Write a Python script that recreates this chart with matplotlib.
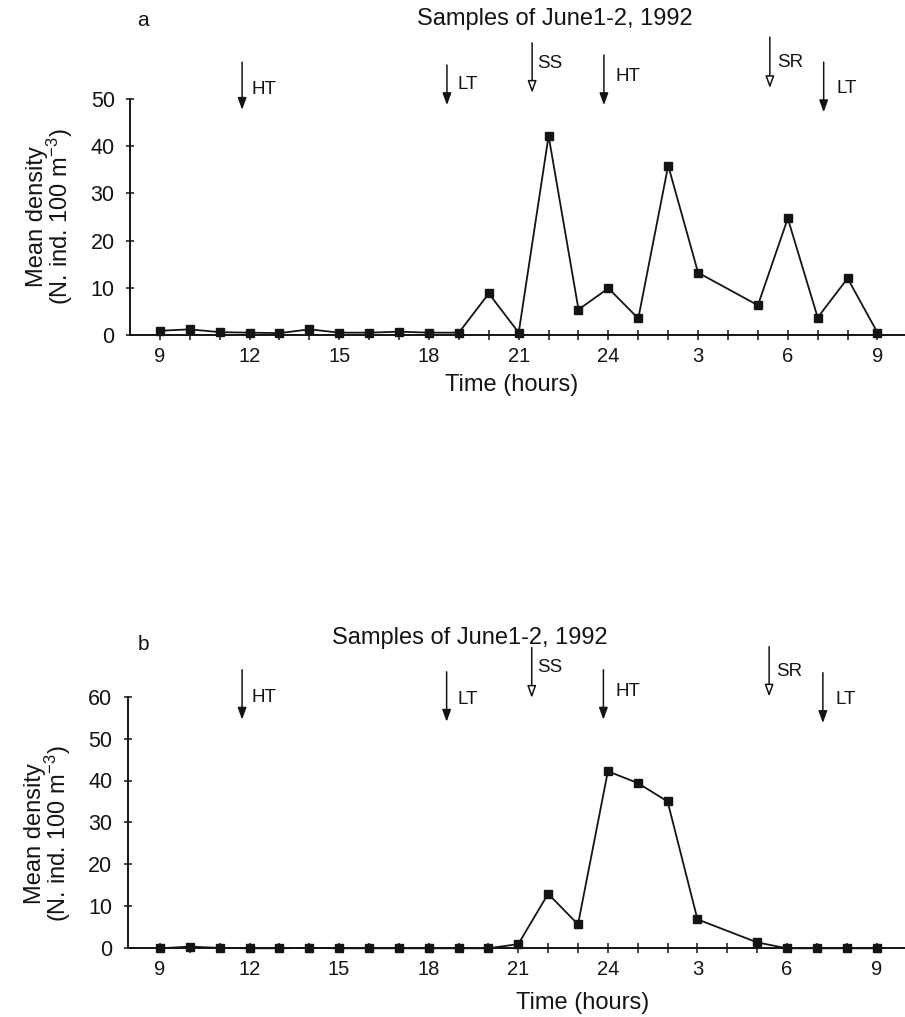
"""
Mean density, samples of June 1-2, 1992 (panels a and b)
"""

import matplotlib
matplotlib.use("Agg")
import matplotlib.pyplot as plt

plt.rcParams['font.family'] = ['Liberation Sans', 'DejaVu Sans']
plt.rcParams['mathtext.default'] = 'regular'

# sampling times (hours, 24 = midnight, 33 = 9 next morning)
hours = [9, 10, 11, 12, 13, 14, 15, 16, 17, 18, 19, 20, 21, 22, 23, 24,
         25, 26, 27, 29, 30, 31, 32, 33]
density_a = [0.9, 1.2, 0.6, 0.5, 0.4, 1.2, 0.5, 0.5, 0.7, 0.5, 0.5, 8.8,
             0.5, 42.2, 5.4, 9.9, 3.5, 35.9, 13.2, 6.3, 24.7, 3.7, 12.0, 0.5]
density_b = [0.0, 0.4, 0.1, 0.0, 0.0, 0.1, 0.0, 0.0, 0.0, 0.0, 0.0, 0.0,
             1.0, 13.0, 5.7, 42.2, 39.4, 35.0, 6.9, 1.4, 0.0, 0.0, 0.0, 0.0]

tick_hours = [9, 12, 15, 18, 21, 24, 27, 30, 33]
tick_labels = ['9', '12', '15', '18', '21', '24', '3', '6', '9']

# tides (HT/LT) and sunset/sunrise (SS/SR)
event_names = ['HT', 'LT', 'SS', 'HT', 'SR', 'LT']
event_times = [11.75, 18.6, 21.45, 23.85, 29.4, 31.2]
event_hollow = [False, False, True, False, True, False]

title = 'Samples of June1-2, 1992'
ink = '#141414'

W, H = 905, 1017
fig = plt.figure(figsize=(W / 100, H / 100), dpi=100)


def px(x, y):
    return x / W, 1 - y / H


def panel(rect, xlim, ylim, ystep, dens, arrows, ylab_y):
    ax = fig.add_axes(rect)
    ax.plot(hours, dens, color=ink, lw=1.3, marker='s', ms=5.5,
            mfc=ink, mec=ink, clip_on=False, zorder=3)
    ax.set_xlim(*xlim)
    ax.set_ylim(0, ylim)
    ax.set_xticks(tick_hours)
    ax.set_xticklabels(tick_labels)
    ax.set_xticks(range(9, 34), minor=True)
    ax.set_yticks(range(0, ylim + 1, ystep))
    for s in ['top', 'right']:
        ax.spines[s].set_visible(False)
    for s in ['left', 'bottom']:
        ax.spines[s].set_linewidth(1.4)
        ax.spines[s].set_color(ink)
    ax.tick_params(axis='x', which='both', direction='inout', length=7,
                   width=1.1, colors=ink, labelsize=14.5, pad=5)
    ax.tick_params(axis='y', direction='inout', length=6, width=1.1,
                   colors=ink, labelsize=15.5, pad=8)
    ax.set_ylabel('Mean density\n(N. ind. 100 m$^{-3}$)', fontsize=17,
                  color=ink, linespacing=0.85)
    ax.yaxis.set_label_coords(-0.071, ylab_y)

    tops, bottoms, labs = arrows
    pxh = 29.9
    offs = [9, 11, 5, 12, 7, 13]
    for i, name in enumerate(event_names):
        t = event_times[i]
        fc = 'white' if event_hollow[i] else ink
        ax.annotate('', xy=(t, bottoms[i]), xytext=(t, tops[i]),
                    annotation_clip=False,
                    arrowprops=dict(arrowstyle='-|>,head_length=0.6,head_width=0.22',
                                    fc=fc, ec=ink, lw=1.1, shrinkA=0, shrinkB=0,
                                    mutation_scale=12))
        ax.text(t + offs[i] / pxh, labs[i], name, fontsize=13.5, color=ink,
                ha='left', va='center', clip_on=False)
    return ax


# panel a
ax_a = panel([130 / W, 1 - 335 / H, 775 / W, 236 / H], (8.0, 33.92), 50, 10,
             density_a,
             ([57.8, 57.2, 61.9, 59.3, 63.1, 57.8],
              [47.7, 48.7, 51.3, 48.7, 52.3, 47.2],
              [52.1, 53.0, 57.6, 54.7, 57.8, 52.3]), 0.5)
fig.text(*px(143, 20), 'a', fontsize=15, color=ink, ha='center', va='center')
fig.text(*px(555, 19), title, fontsize=17, color=ink, ha='center', va='center')
fig.text(*px(512, 385), 'Time (hours)', fontsize=17, color=ink,
         ha='center', va='center')

# panel b
ax_b = panel([127.7 / W, 1 - 948.3 / H, 777.3 / W, 251.7 / H], (7.92, 33.95),
             60, 10, density_b,
             ([66.4, 65.9, 71.7, 66.4, 71.9, 65.7],
              [54.5, 54.0, 59.7, 54.5, 60.0, 53.7],
              [59.7, 59.3, 66.9, 61.2, 65.9, 59.3]), 0.457)
fig.text(*px(143, 645), 'b', fontsize=15, color=ink, ha='center', va='center')
fig.text(*px(470, 638), title, fontsize=17, color=ink, ha='center', va='center')
fig.text(*px(583, 1003), 'Time (hours)', fontsize=17, color=ink,
         ha='center', va='center')

fig.savefig('out.png', dpi=100)
